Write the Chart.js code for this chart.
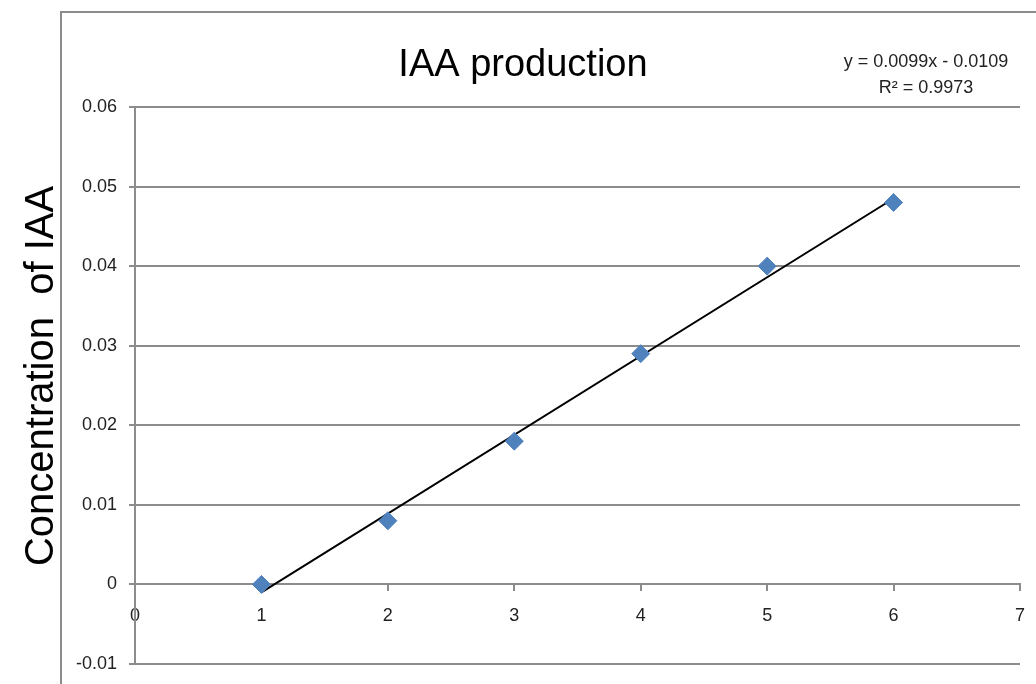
<!DOCTYPE html>
<html>
<head>
<meta charset="utf-8">
<script src="https://cdn.jsdelivr.net/npm/chart.js@4.4.1/dist/chart.umd.min.js"></script>
<style>
  html, body { margin: 0; padding: 0; background: #fff; }
  #wrap { width: 1036px; height: 684px; }
</style>
</head>
<body>
<div id="wrap"><canvas id="chart"></canvas></div>
<script>
// data
const xValues = [1, 2, 3, 4, 5, 6];
const iaaValues = [0, 0.008, 0.018, 0.029, 0.040, 0.048];
const trendSlope = 0.0099;
const trendIntercept = -0.0109;
const chartTitle = 'IAA production';
const yTitle = 'Concentration  of IAA';
const equationLines = ['y = 0.0099x - 0.0109', 'R\u00b2 = 0.9973'];

const points = xValues.map((x, i) => ({ x: x, y: iaaValues[i] }));
const trendX = [xValues[0], xValues[xValues.length - 1]];
const trend = trendX.map(x => ({ x: x, y: trendSlope * x + trendIntercept }));

const tickFont = { family: "'Liberation Sans', sans-serif", size: 18 };

// outer frame, titles and the trendline equation
const framePlugin = {
    id: 'frame',
    beforeDraw(chart) {
        const ctx = chart.ctx;
        ctx.save();
        ctx.strokeStyle = '#8c8c8c';
        ctx.lineWidth = 2;
        ctx.beginPath();
        ctx.moveTo(61, 684);
        ctx.lineTo(61, 12);
        ctx.lineTo(1036, 12);
        ctx.stroke();
        ctx.restore();
    },
    afterDraw(chart) {
        const ctx = chart.ctx;
        ctx.save();
        ctx.textAlign = 'center';
        ctx.textBaseline = 'middle';

        ctx.fillStyle = '#000';
        ctx.font = "38px 'Liberation Sans', sans-serif";
        ctx.fillText(chartTitle, 523, 66);

        ctx.save();
        ctx.translate(42, 376);
        ctx.rotate(-Math.PI / 2);
        ctx.font = "40px 'Liberation Sans', sans-serif";
        ctx.fillText(yTitle, 0, 0);
        ctx.restore();

        ctx.fillStyle = '#222';
        ctx.font = "18px 'Liberation Sans', sans-serif";
        ctx.fillText(equationLines[0], 926, 62);
        ctx.fillText(equationLines[1], 926, 88);
        ctx.restore();
    }
};

new Chart(document.getElementById('chart'), {
    type: 'scatter',
    data: {
        datasets: [{
            label: 'IAA',
            data: points,
            order: 0,
            pointStyle: 'rectRot',
            pointRadius: 9,
            pointHoverRadius: 9,
            backgroundColor: '#4f81bd',
            borderColor: '#4f81bd',
            borderWidth: 1
        }, {
            label: 'Linear trend',
            data: trend,
            order: 1,
            type: 'line',
            showLine: true,
            pointRadius: 0,
            borderColor: '#000',
            borderWidth: 2,
            fill: false
        }]
    },
    plugins: [framePlugin],
    options: {
        responsive: true,
        maintainAspectRatio: false,
        animation: false,
        layout: { padding: { left: 0, right: 16, top: 107, bottom: 20 } },
        plugins: {
            legend: { display: false },
            tooltip: { enabled: false },
            title: { display: false }
        },
        scales: {
            x: {
                type: 'linear',
                position: { y: 0 },
                min: 0,
                max: 7,
                afterFit(scale) { scale.paddingRight = 0; },
                ticks: { stepSize: 1, color: '#222', font: tickFont, padding: 15 },
                grid: { drawOnChartArea: false, drawTicks: true, tickLength: 6, color: '#8c8c8c', lineWidth: 2 },
                border: { color: '#8c8c8c', width: 2 }
            },
            y: {
                type: 'linear',
                min: -0.01,
                max: 0.06,
                afterFit(scale) {
                    scale.width = 135;
                    scale.paddingTop = 0;
                    scale.paddingBottom = 0;
                },
                ticks: {
                    stepSize: 0.01,
                    color: '#222',
                    font: tickFont,
                    padding: 12,
                    callback: v => String(Number(v.toFixed(2)))
                },
                grid: { color: '#8c8c8c', lineWidth: 2, tickLength: 6 },
                border: { color: '#8c8c8c', width: 2 }
            }
        }
    }
});
</script>
</body>
</html>
